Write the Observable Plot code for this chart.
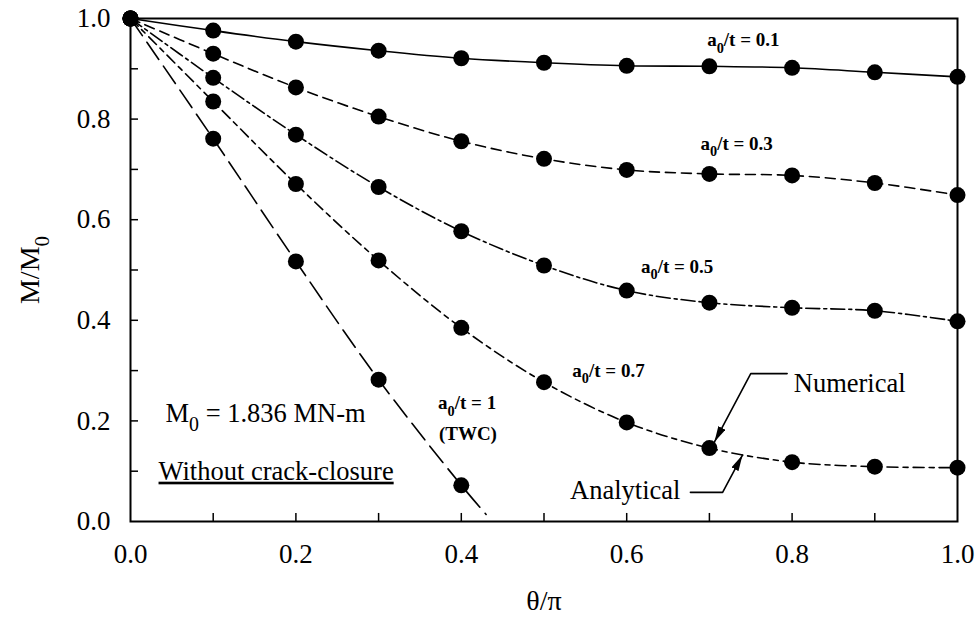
<!DOCTYPE html>
<html><head><meta charset="utf-8">
<script src="https://cdn.jsdelivr.net/npm/d3@7"></script>
<script src="https://cdn.jsdelivr.net/npm/@observablehq/plot@0.6"></script>
<style>
body{margin:0;background:#fff;}
</style>
</head><body><div id="chart"></div>
<script>
// ---- data ----
const theta = [0, 0.1, 0.2, 0.3, 0.4, 0.5, 0.6, 0.7, 0.8, 0.9, 1.0];
const seriesNames = ["0.1", "0.3", "0.5", "0.7", "1"];
const s01 = [1.0, 0.976, 0.954, 0.936, 0.921, 0.912, 0.906, 0.905, 0.902, 0.893, 0.884];
const s03 = [1.0, 0.930, 0.863, 0.805, 0.756, 0.721, 0.699, 0.691, 0.688, 0.673, 0.649];
const s05 = [1.0, 0.882, 0.769, 0.665, 0.577, 0.509, 0.459, 0.435, 0.425, 0.419, 0.398];
const s07 = [1.0, 0.835, 0.671, 0.519, 0.385, 0.277, 0.197, 0.146, 0.118, 0.109, 0.107];
const s10 = [1.0, 0.761, 0.517, 0.282, 0.072];
// analytical TWC curve continues past the last numerical point
const twcTailX = [0.43];
const twcTailY = [0.014];

const xTickLabels = [0, 0.2, 0.4, 0.6, 0.8, 1.0];
const yTickLabels = [0, 0.2, 0.4, 0.6, 0.8, 1.0];
const minorTicks = [0.1, 0.2, 0.3, 0.4, 0.5, 0.6, 0.7, 0.8, 0.9];

const seriesLabels = ["a_0/t = 0.1", "a_0/t = 0.3", "a_0/t = 0.5", "a_0/t = 0.7", "a_0/t = 1", "(TWC)"];
const seriesLabelX = [0.741, 0.733, 0.661, 0.578, 0.407, 0.408];
const seriesLabelY = [0.957, 0.751, 0.507, 0.300, 0.235, 0.175];

const notes = ["M_0 = 1.836 MN-m", "Without crack-closure"];
const notesX = [0.0423, 0.0339];
const notesY = [0.215, 0.100];

const numText = ["Numerical"];
const numTextX = [0.802];
const numTextY = [0.274];
const anaText = ["Analytical"];
const anaTextX = [0.665];
const anaTextY = [0.062];
const numLeaderX = [0.794, 0.750, 0.706];
const numLeaderY = [0.294, 0.294, 0.158];
const anaLeaderX = [0.677, 0.716, 0.740];
const anaLeaderY = [0.058, 0.058, 0.132];

const xLabel = "θ/π";
const yLabel = "M/M_0";

// ---- build tables ----
const allSeries = [s01, s03, s05, s07, s10];
const points = [];
allSeries.forEach((s, i) => s.forEach((v, j) => points.push({series: seriesNames[i], x: theta[j], y: v})));
const curves = allSeries.map((s, i) => {
  const pts = s.map((v, j) => ({x: theta[j], y: v}));
  if (i === 4) twcTailX.forEach((x, k) => pts.push({x, y: twcTailY[k]}));
  return pts;
});
const dashes = ["none", "10,6", "14,4,3,4", "11,5,5,5", "21,8"];
const leaders = [
  ...numLeaderX.map((x, i) => ({k: "num", x, y: numLeaderY[i]})),
  ...anaLeaderX.map((x, i) => ({k: "ana", x, y: anaLeaderY[i]}))
];

const serif = "'Liberation Serif', 'Times New Roman', serif";
const LEADER = "#000001";

const plot = Plot.plot({
  width: 977, height: 617,
  marginLeft: 130, marginRight: 20, marginTop: 18, marginBottom: 96,
  style: {fontFamily: serif, fontSize: "27px", color: "#000", background: "#fff"},
  x: {domain: [0, 1]},
  y: {domain: [0, 1]},
  marks: [
    Plot.frame({stroke: "#000", strokeWidth: 2}),
    Plot.ruleX(minorTicks, {x: d => d, y1: 0, y2: 0.016, stroke: "#000", strokeWidth: 1.5}),
    Plot.ruleY(minorTicks, {y: d => d, x1: 0, x2: 0.0097, stroke: "#000", strokeWidth: 1.5}),
    Plot.axisX({ticks: xTickLabels, tickSize: 0, tickPadding: 22, tickFormat: d3.format(".1f"), label: null, fontSize: 27}),
    Plot.axisY({ticks: yTickLabels, tickSize: 0, tickPadding: 20, tickFormat: d3.format(".1f"), label: null, fontSize: 27}),
    ...curves.map((c, i) => Plot.line(c, {x: "x", y: "y", curve: "catmull-rom", stroke: "#000", strokeWidth: 1.6, strokeDasharray: dashes[i]})),
    Plot.dot(points, {x: "x", y: "y", r: 8, fill: "#000", stroke: "none"}),
    Plot.text(seriesLabels, {x: (d, i) => seriesLabelX[i], y: (d, i) => seriesLabelY[i], text: d => d, fontSize: 19, fontWeight: "bold", textAnchor: "middle"}),
    Plot.text(notes, {x: (d, i) => notesX[i], y: (d, i) => notesY[i], text: d => d, fontSize: 26.5, textAnchor: "start"}),
    Plot.text(numText, {x: (d, i) => numTextX[i], y: (d, i) => numTextY[i], text: d => d, fontSize: 26.5, textAnchor: "start"}),
    Plot.text(anaText, {x: (d, i) => anaTextX[i], y: (d, i) => anaTextY[i], text: d => d, fontSize: 26.5, textAnchor: "end"}),
    Plot.line(leaders, {x: "x", y: "y", z: "k", stroke: LEADER, strokeWidth: 1.6}),
    Plot.text([xLabel], {x: 0.5, y: -0.158, text: d => d, fontSize: 28}),
    Plot.text([yLabel], {x: -0.121, y: 0.5, text: d => d, fontSize: 28, rotate: -90})
  ]
});

// ---- post-processing: subscripts, underline, arrowheads ----
const svg = d3.select(plot.tagName.toLowerCase() === "svg" ? plot : plot.querySelector("svg"));
svg.selectAll("text").each(function() {
  const t = this.textContent;
  if (!t.includes("_0")) return;
  let fs = parseFloat(this.getAttribute("font-size"));
  if (!fs) { const p = this.closest("[font-size]"); fs = p ? parseFloat(p.getAttribute("font-size")) : 26; }
  const parts = t.split("_0");
  const sel = d3.select(this);
  sel.text(null);
  sel.append("tspan").text(parts[0]);
  sel.append("tspan").attr("dy", (0.33 * fs).toFixed(1)).attr("font-size", (0.75 * fs).toFixed(1)).text("0");
  sel.append("tspan").attr("dy", (-0.33 * fs).toFixed(1)).text(parts[1]);
});
svg.selectAll("text").filter(function() { return this.textContent === "Without crack-closure"; })
  .attr("text-decoration", "underline");
const defs = svg.insert("defs", ":first-child");
defs.append("marker").attr("id", "ahead").attr("viewBox", "0 0 16 8")
  .attr("refX", 16).attr("refY", 4).attr("markerWidth", 16).attr("markerHeight", 8)
  .attr("markerUnits", "userSpaceOnUse").attr("orient", "auto")
  .append("path").attr("d", "M0,0L16,4L0,8Z").attr("fill", "#000");
svg.selectAll("path").filter(function() {
  const g = this.closest("[stroke]");
  return (this.getAttribute("stroke") === LEADER) || (g && g.getAttribute("stroke") === LEADER);
}).attr("marker-end", "url(#ahead)");

document.getElementById("chart").appendChild(plot);
</script>
</body></html>
